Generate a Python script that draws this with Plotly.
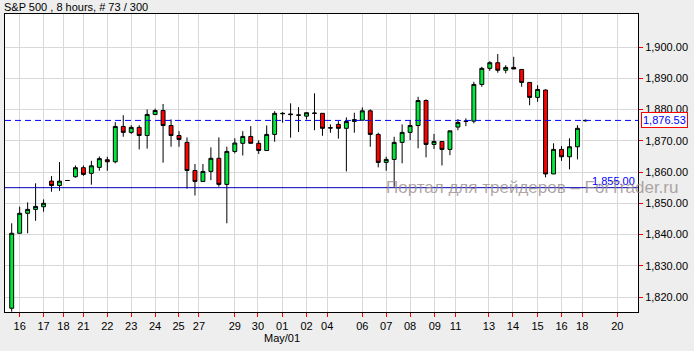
import plotly.graph_objects as go

# ---- data (S&P 500, 8-hour candles) ----
opens = [1816.4, 1840.4, 1846.8, 1848.05, 1848.9, 1857.1, 1855.7, 1857.3, 1858.5, 1861.4,
         1859.6, 1861.5, 1863.95, 1863.3, 1874.6, 1872.7, 1874.3, 1871.7, 1878.45, 1879.7,
         1874.9, 1871.7, 1869.5, 1860.5, 1857.0, 1860.2, 1864.4, 1856.05, 1866.6, 1869.2,
         1871.4, 1869.2, 1866.9, 1872.05, 1878.8, 1878.6, 1878.3, 1877.9, 1878.9, 1878.8,
         1874.2, 1875.25, 1874.0, 1876.2, 1876.6, 1879.6, 1872.05, 1863.1, 1864.05, 1869.5,
         1872.7, 1874.9, 1882.9, 1868.85, 1869.8, 1867.25, 1874.4, 1876.2, 1876.3, 1888.05,
         1893.2, 1895.0, 1892.6, 1893.5, 1892.85, 1888.7, 1883.9, 1886.25, 1859.4, 1867.25,
         1864.9, 1868.1, 1876.4]
highs = [1843.6, 1848.9, 1850.3, 1856.4, 1851.25, 1858.7, 1863.2, 1857.4, 1862.1, 1862.1,
         1863.6, 1865.0, 1864.9, 1876.0, 1878.2, 1875.0, 1875.0, 1880.05, 1880.3, 1881.8,
         1876.85, 1873.1, 1871.1, 1862.6, 1862.6, 1867.9, 1871.1, 1868.1, 1870.8, 1873.1,
         1874.7, 1870.2, 1874.9, 1879.5, 1879.2, 1882.0, 1880.8, 1879.0, 1885.2, 1878.8,
         1875.25, 1876.3, 1877.5, 1879.0, 1880.7, 1880.05, 1872.6, 1864.9, 1871.3, 1875.25,
         1876.6, 1884.1, 1883.25, 1872.2, 1869.8, 1873.2, 1876.95, 1877.2, 1888.9, 1893.7,
         1895.5, 1897.8, 1894.2, 1896.9, 1892.85, 1888.7, 1887.8, 1886.45, 1869.2, 1868.3,
         1870.8, 1875.0, 1876.8]
lows = [1815.3, 1840.4, 1840.4, 1844.4, 1847.3, 1853.7, 1854.0, 1857.2, 1858.2, 1858.8,
        1855.95, 1860.4, 1860.4, 1862.8, 1871.3, 1872.2, 1867.25, 1867.5, 1878.2, 1863.0,
        1868.1, 1868.1, 1854.7, 1852.5, 1857.0, 1857.4, 1855.3, 1843.6, 1866.0, 1865.3,
        1869.2, 1865.8, 1866.9, 1869.7, 1875.8, 1871.0, 1872.8, 1876.85, 1873.4, 1871.6,
        1872.6, 1870.7, 1860.2, 1872.6, 1876.6, 1868.1, 1861.5, 1860.4, 1855.3, 1862.8,
        1870.2, 1867.6, 1864.7, 1867.4, 1862.1, 1865.4, 1873.4, 1874.7, 1875.6, 1887.3,
        1892.4, 1891.8, 1891.6, 1893.0, 1887.3, 1881.4, 1882.5, 1858.3, 1859.4, 1863.6,
        1860.85, 1864.05, 1876.2]
closes = [1840.4, 1846.8, 1848.05, 1849.0, 1850.0, 1855.7, 1857.1, 1857.3, 1861.4, 1859.25,
          1862.0, 1864.3, 1863.3, 1874.6, 1872.7, 1874.3, 1871.7, 1878.45, 1879.7, 1874.9,
          1871.7, 1870.45, 1860.5, 1857.0, 1860.2, 1864.4, 1856.05, 1866.6, 1869.3, 1871.4,
          1869.2, 1866.9, 1872.05, 1878.8, 1878.7, 1878.4, 1878.2, 1879.0, 1878.8, 1874.0,
          1874.1, 1874.0, 1876.2, 1876.8, 1879.6, 1872.05, 1863.1, 1864.05, 1869.5, 1872.7,
          1874.9, 1882.9, 1868.85, 1869.8, 1867.25, 1873.2, 1875.9, 1876.3, 1888.05, 1893.2,
          1895.0, 1892.6, 1893.5, 1893.0, 1888.7, 1883.9, 1886.45, 1859.4, 1867.25, 1864.9,
          1868.1, 1874.0, 1876.53]
bar_index = list(range(len(opens)))

# x-axis day labels and their positions (in bar units)
day_labels = ["16", "17", "18", "21", "22", "23", "24", "25", "27", "29", "30", "01", "02",
              "04", "06", "07", "08", "09", "11", "13", "14", "15", "16", "18", "20"]
day_pos = [1.0, 4.0, 6.5, 9.0, 12.0, 15.0, 18.0, 20.95, 23.5, 28.0, 30.9, 33.95, 37.0,
           39.6, 44.0, 47.0, 50.0, 53.1, 55.7, 59.9, 62.9, 66.0, 69.0, 71.6, 76.0]
month_label = "May/01"
month_pos = 33.95

y_ticks = [1820, 1830, 1840, 1850, 1860, 1870, 1880, 1890, 1900]
last_price = 1876.53
level_price = 1855.00
title_text = "S&P 500 , 8 hours, # 73 / 300"
watermark = "Портал для трейдеров – ForTrader.ru"

FONT = "Liberation Sans, Arial, sans-serif"
GREEN = "#00E83C"
RED = "#FF0000"

fig = go.Figure()
fig.add_trace(go.Candlestick(
    x=bar_index, open=opens, high=highs, low=lows, close=closes,
    increasing=dict(fillcolor=GREEN, line=dict(color="black", width=1)),
    decreasing=dict(fillcolor=RED, line=dict(color="black", width=1)),
    whiskerwidth=0, showlegend=False, hoverinfo="skip",
))

# horizontal lines
fig.add_shape(type="line", xref="paper", x0=0, x1=1, yref="y", y0=last_price, y1=last_price,
              line=dict(color="#0000FF", width=1, dash="6px,4px"), layer="above")
fig.add_shape(type="line", xref="paper", x0=0, x1=1, yref="y", y0=level_price, y1=level_price,
              line=dict(color="#0000B4", width=1), layer="above")

ann = []
ann.append(dict(text=title_text, xref="paper", yref="paper", x=0, xshift=-3, y=1.0235,
                xanchor="left", yanchor="middle", showarrow=False,
                font=dict(family=FONT, size=11, color="black")))
ann.append(dict(text=f"{last_price:,.2f}", xref="paper", yref="y", x=1, y=last_price,
                xanchor="left", yanchor="middle", xshift=3, showarrow=False,
                font=dict(family=FONT, size=11, color="#0000FF"),
                bgcolor="white", bordercolor="#FF0000", borderwidth=1, borderpad=1))
ann.append(dict(text=f"{level_price:,.2f}", xref="paper", yref="y", x=1, y=level_price,
                xanchor="right", yanchor="bottom", xshift=-1, yshift=-1, showarrow=False,
                font=dict(family=FONT, size=11, color="#0000FF")))
ann.append(dict(text=month_label, xref="x", yref="paper", x=month_pos, y=-0.087,
                xanchor="center", yanchor="middle", showarrow=False,
                font=dict(family=FONT, size=11, color="black")))
ann.append(dict(text=watermark, xref="paper", yref="paper", x=0.8325, y=0.418,
                xanchor="center", yanchor="middle", showarrow=False,
                font=dict(family=FONT, size=17, color="rgba(150,136,136,0.75)")))

fig.update_layout(
    width=694, height=351,
    margin=dict(l=5, r=56, t=14, b=39),
    paper_bgcolor="#EEEEEE", plot_bgcolor="white",
    annotations=ann,
    xaxis=dict(
        type="linear", range=[-0.84, 78.6], rangeslider=dict(visible=False),
        tickmode="array", tickvals=day_pos, ticktext=day_labels,
        ticks="outside", ticklen=4, tickcolor="#FF0000", tickwidth=1,
        showgrid=True, gridcolor="#D8D8D8", gridwidth=1,
        showline=True, linecolor="black", linewidth=1, mirror=True,
        tickfont=dict(family=FONT, size=11, color="black"), zeroline=False,
    ),
    yaxis=dict(
        side="right", range=[1815.2, 1910.6],
        tickmode="array", tickvals=y_ticks, tickformat=",.2f",
        ticks="outside", ticklen=4, tickcolor="#FF0000", tickwidth=1,
        showgrid=True, gridcolor="#D8D8D8", gridwidth=1,
        showline=True, linecolor="black", linewidth=1, mirror=True,
        tickfont=dict(family=FONT, size=11, color="black"), zeroline=False,
    ),
)

fig.write_html("out.html")
